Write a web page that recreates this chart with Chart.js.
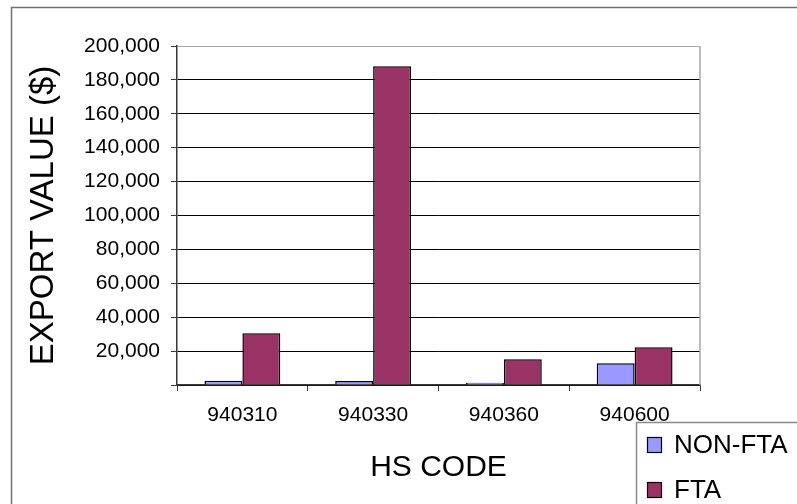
<!DOCTYPE html>
<html>
<head>
<meta charset="utf-8">
<title>Export value by HS code</title>
<script src="https://cdn.jsdelivr.net/npm/chart.js@4/dist/chart.umd.min.js"></script>
<style>
    html, body { margin: 0; padding: 0; background: #ffffff; }
    canvas { display: block; }
</style>
</head>
<body>
<canvas id="chart" width="797" height="504"></canvas>
<script>
// categories and series
const hsCodes = ['940310', '940330', '940360', '940600'];
const nonFtaValues = [2500, 2400, 1400, 12800];
const ftaValues = [30500, 188000, 15200, 22200];
const seriesNames = ['NON-FTA', 'FTA'];

// value axis
const yMin = 0;
const yMax = 200000;
const yStep = 20000;

const FONT = "'Liberation Sans', Arial, sans-serif";
const AXIS_COLOR = '#3d3535';

// outer frame + right edge of the plot + the boxed legend bottom right
const framePlugin = {
    id: 'frame',
    beforeDraw(chart) {
        const ctx = chart.ctx;
        ctx.save();
        ctx.fillStyle = '#ffffff';
        ctx.fillRect(0, 0, chart.width, chart.height);
        ctx.strokeStyle = '#707070';
        ctx.lineWidth = 1.5;
        ctx.strokeRect(11.5, 7.5, chart.width + 20, chart.height + 20);
        ctx.restore();
    },
    beforeDatasetsDraw(chart) {
        const { ctx, chartArea } = chart;
        ctx.save();
        ctx.strokeStyle = '#a8a8a8';
        ctx.lineWidth = 1.5;
        ctx.beginPath();
        ctx.moveTo(chartArea.right, chartArea.top);
        ctx.lineTo(chartArea.right, chartArea.bottom);
        ctx.stroke();
        ctx.restore();
    },
    afterDraw(chart) {
        const ctx = chart.ctx;
        const x0 = 636.5, y0 = 422.5;
        ctx.save();
        ctx.fillStyle = '#ffffff';
        ctx.fillRect(x0, y0, chart.width, chart.height);
        ctx.strokeStyle = '#8a8a8a';
        ctx.lineWidth = 1.5;
        ctx.strokeRect(x0, y0, chart.width, chart.height);

        ctx.font = '26px ' + FONT;
        ctx.textBaseline = 'middle';
        ctx.textAlign = 'left';
        chart.data.datasets.forEach((ds, i) => {
            const y = 437.5 + i * 45;
            ctx.fillStyle = ds.backgroundColor;
            ctx.fillRect(647.5, y, 14, 15);
            ctx.strokeStyle = '#000000';
            ctx.lineWidth = 1.2;
            ctx.strokeRect(647.5, y, 14, 15);
            ctx.fillStyle = '#000000';
            ctx.fillText(ds.label, 674, y + 8);
        });
        ctx.restore();
    }
};

new Chart(document.getElementById('chart'), {
    type: 'bar',
    data: {
        labels: hsCodes,
        datasets: [
            {
                label: seriesNames[0],
                data: nonFtaValues,
                backgroundColor: '#9999ff',
                borderColor: '#000000',
                borderWidth: 1.5
            },
            {
                label: seriesNames[1],
                data: ftaValues,
                backgroundColor: '#993366',
                borderColor: '#000000',
                borderWidth: 1.5
            }
        ]
    },
    options: {
        responsive: false,
        animation: false,
        events: [],
        layout: {
            padding: { left: 0, top: 46, right: 97, bottom: 0 }
        },
        datasets: {
            bar: {
                categoryPercentage: 0.58,
                barPercentage: 1
            }
        },
        plugins: {
            legend: { display: false },
            tooltip: { enabled: false }
        },
        scales: {
            x: {
                afterFit(scale) { scale.height = 119; },
                grid: {
                    offset: true,
                    drawOnChartArea: false,
                    drawTicks: true,
                    tickLength: 6,
                    tickColor: AXIS_COLOR
                },
                border: { display: true, color: AXIS_COLOR, width: 1.5 },
                ticks: {
                    color: '#000000',
                    padding: 12,
                    maxRotation: 0,
                    font: { family: FONT, size: 21 }
                },
                title: {
                    display: true,
                    text: 'HS CODE',
                    color: '#000000',
                    padding: { top: 0, bottom: 18 },
                    font: { family: FONT, size: 30 }
                }
            },
            y: {
                min: yMin,
                max: yMax,
                afterFit(scale) { scale.width = 177; },
                grid: {
                    color: (c) => (c.tick && c.tick.value === yMax ? '#a8a8a8' : '#000000'),
                    lineWidth: 1,
                    drawTicks: true,
                    tickLength: 6,
                    tickColor: AXIS_COLOR
                },
                border: { display: true, color: AXIS_COLOR, width: 1.5 },
                ticks: {
                    stepSize: yStep,
                    color: '#000000',
                    padding: 11,
                    font: { family: FONT, size: 21 },
                    callback: (v) => (v === 0 ? '' : v.toLocaleString('en-US'))
                },
                title: {
                    display: true,
                    text: 'EXPORT VALUE ($)',
                    color: '#000000',
                    padding: { top: 24, bottom: 0 },
                    font: { family: FONT, size: 33 }
                }
            }
        }
    },
    plugins: [framePlugin]
});
</script>
</body>
</html>
